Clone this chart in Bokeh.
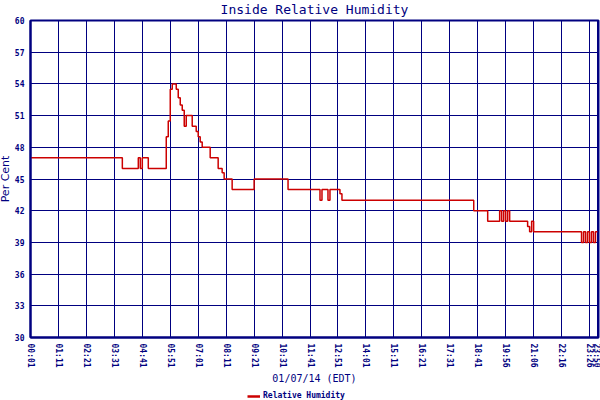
from bokeh.plotting import figure
from bokeh.layouts import column
from bokeh.models import Range1d, FixedTicker, Legend, LegendItem
from bokeh.embed import file_html
from bokeh.resources import INLINE

# ---- data (sample index of each change, humidity in %) ----
sample_idx = [0, 46, 54, 55, 56, 59, 68, 69, 70, 71, 73, 74, 75, 76, 77, 78,
              81, 83, 84, 85, 86, 90, 94, 96, 97, 101, 112, 129, 145, 146,
              149, 150, 155, 156, 222, 229, 235, 236, 237, 238, 239, 240,
              249, 250, 251, 252, 276, 277, 278, 279, 280, 281, 282, 283, 284]
humidity = [47, 46, 47, 46, 47, 46, 49, 50.5, 53.5, 54, 53.5, 52.7, 52, 51.5, 50, 51,
            50, 49.5, 49, 48.5, 48, 47, 46, 45.6, 45, 44, 45, 44, 43, 44,
            43, 44, 43.6, 43, 42, 41, 42, 41, 42, 41, 42, 41,
            40.5, 40, 41, 40, 39, 40, 39, 40, 39, 40, 39, 40, 40]

tick_idx = [0, 14, 28, 42, 56, 70, 84, 98, 112, 126, 140, 154, 168, 182,
            196, 210, 224, 238, 252, 266, 280, 284]
tick_labels = ["00:01", "01:11", "02:21", "03:31", "04:41", "05:51", "07:01",
               "08:11", "09:21", "10:31", "11:41", "12:51", "14:01", "15:11",
               "16:21", "17:31", "18:41", "19:56", "21:06", "22:16", "23:26",
               "23:50"]
y_ticks = [30, 33, 36, 39, 42, 45, 48, 51, 54, 57, 60]
series_name = "Relative Humidity"

NAVY = "#000080"
RED = "#cc0000"
MONO = "DejaVu Sans Mono"

p = figure(width=605, height=392, output_backend="svg", toolbar_location=None,
           x_range=Range1d(0, 284.5), y_range=Range1d(30, 60),
           min_border_left=35, min_border_right=2, min_border_top=25,
           min_border_bottom=50)
p.background_fill_color = "white"
p.border_fill_color = "white"
p.outline_line_color = NAVY
p.outline_line_width = 2

p.title.text = "Inside Relative Humidity"
p.title.align = "center"
p.title.text_font = MONO
p.title.text_font_size = "13px"
p.title.text_font_style = "normal"
p.title.text_color = NAVY
p.title.standoff = 8

r = p.step(sample_idx, humidity, mode="after", line_color=RED, line_width=1.5)

# axes
p.xaxis.ticker = FixedTicker(ticks=tick_idx)
p.xaxis.major_label_overrides = {t: l for t, l in zip(tick_idx, tick_labels)}
p.xaxis.major_label_orientation = "vertical"
p.yaxis.ticker = FixedTicker(ticks=y_ticks)
for ax in (p.xaxis, p.yaxis):
    ax.axis_line_color = NAVY
    ax.axis_line_width = 2
    ax.major_tick_out = 0
    ax.major_tick_in = 0
    ax.minor_tick_out = 0
    ax.minor_tick_in = 0
    ax.major_label_text_font = MONO
    ax.major_label_text_font_size = "8px"
    ax.major_label_text_font_style = "bold"
    ax.major_label_text_color = NAVY
    ax.axis_label_text_color = NAVY
    ax.axis_label_text_font_style = "normal"
p.xaxis.major_label_standoff = 6
p.yaxis.major_label_standoff = 6
p.xaxis.axis_label = "01/07/14 (EDT)"
p.xaxis.axis_label_text_font = MONO
p.xaxis.axis_label_text_font_size = "10px"
p.xaxis.axis_label_standoff = 2
p.yaxis.axis_label = "Per Cent"
p.yaxis.axis_label_text_font = "DejaVu Sans"
p.yaxis.axis_label_text_font_size = "11px"
p.yaxis.axis_label_standoff = 0

# grid
p.xgrid.grid_line_color = NAVY
p.ygrid.grid_line_color = NAVY
p.xgrid.grid_line_width = 1
p.ygrid.grid_line_width = 1
p.xgrid.grid_line_alpha = 1
p.ygrid.grid_line_alpha = 1

# legend strip below the chart (its renderer's data lie outside its view)
p2 = figure(width=605, height=13, output_backend="svg", toolbar_location=None,
            x_range=Range1d(0, 1), y_range=Range1d(0, 1),
            x_axis_type=None, y_axis_type=None,
            min_border_left=0, min_border_right=0, min_border_top=0,
            min_border_bottom=0)
p2.grid.visible = False
p2.outline_line_color = None
p2.background_fill_color = "white"
p2.border_fill_color = "white"
r2 = p2.line(sample_idx, humidity, line_color=RED, line_width=2.5)
legend = Legend(items=[LegendItem(label=series_name, renderers=[r2])],
                location=(217, 0), orientation="horizontal",
                padding=0, margin=0, spacing=0,
                glyph_width=13, glyph_height=8, label_height=8,
                label_standoff=3, label_text_font=MONO,
                label_text_font_size="8px", label_text_font_style="bold",
                label_text_color=NAVY, border_line_alpha=0,
                background_fill_alpha=0)
p2.add_layout(legend, "center")

layout = column(p, p2, spacing=0)
layout.margin = (-5, -8, -8, -5)

open("out.html", "w").write(file_html(layout, INLINE))
